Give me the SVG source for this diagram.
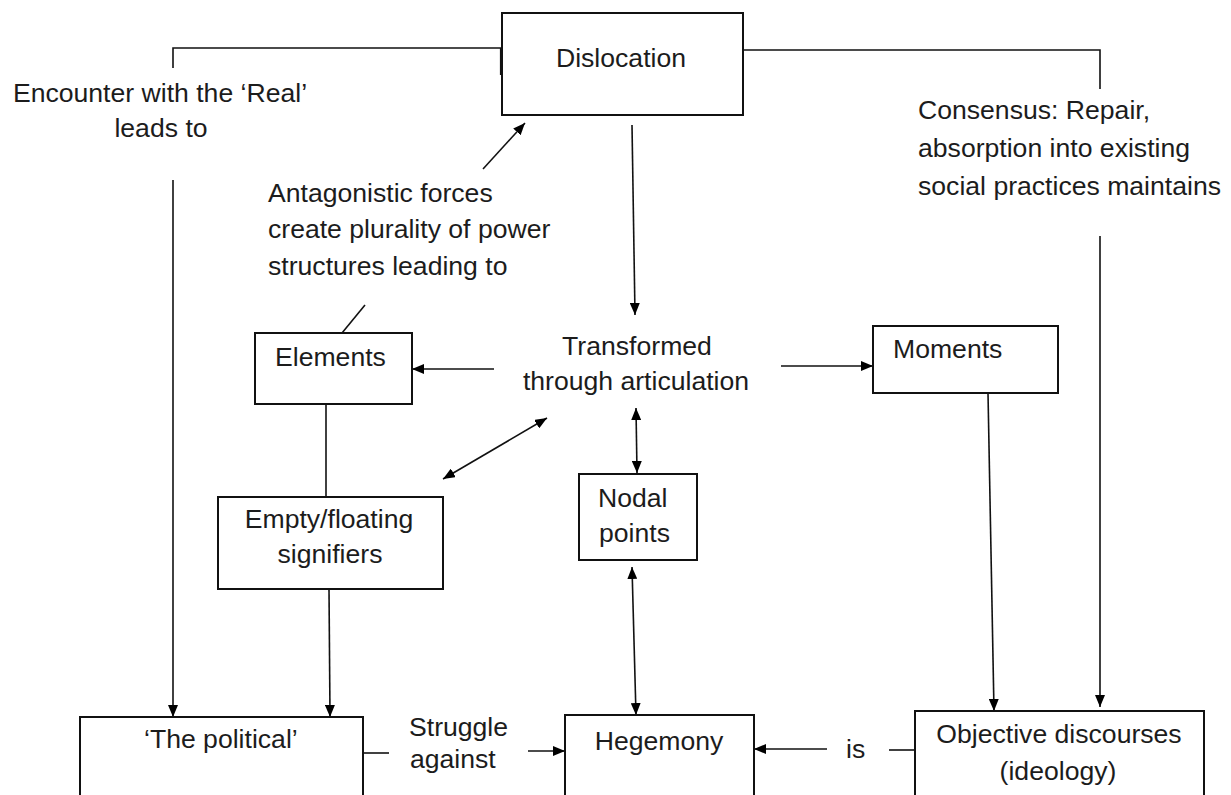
<svg xmlns="http://www.w3.org/2000/svg" width="1231" height="795" viewBox="0 0 1231 795">
<defs>
<marker id="ah" viewBox="0 0 12 10" refX="12" refY="5" markerWidth="12" markerHeight="10" markerUnits="userSpaceOnUse" orient="auto-start-reverse">
<path d="M0,0 L12,5 L0,10 z" fill="#000"/>
</marker>
<style>
.box{fill:#fff;stroke:#111;stroke-width:2}
.ln{fill:none;stroke:#111;stroke-width:1.6}
.ar{marker-end:url(#ah)}
.da{marker-start:url(#ah);marker-end:url(#ah)}
text{font-family:"Liberation Sans",Arial,sans-serif;font-size:26.6px;fill:#1c1c1c}
.c{text-anchor:middle}
</style>
</defs>
<rect width="1231" height="795" fill="#fff"/>
<g id="connectors">
<path class="ln" d="M173,68 V48 H501"/>
<path class="ln" d="M501,48 V75" style="stroke-width:2.2"/>
<path class="ln" d="M743,50 H1100 V89"/>
<line class="ln ar" x1="173" y1="180" x2="173" y2="717"/>
<line class="ln ar" x1="483" y1="169" x2="525" y2="123"/>
<line class="ln ar" x1="632" y1="125" x2="635" y2="315"/>
<line class="ln ar" x1="494" y1="369" x2="412" y2="369"/>
<line class="ln ar" x1="781" y1="366" x2="873" y2="366"/>
<line class="ln" x1="365" y1="305" x2="342" y2="333"/>
<line class="ln" x1="326" y1="404" x2="326" y2="497"/>
<line class="ln da" x1="443" y1="479" x2="547" y2="418"/>
<line class="ln da" x1="636" y1="408" x2="637" y2="473"/>
<line class="ln ar" x1="329" y1="589" x2="330" y2="717"/>
<line class="ln da" x1="632" y1="567" x2="636" y2="715"/>
<line class="ln ar" x1="988" y1="393" x2="994" y2="711"/>
<line class="ln ar" x1="1100" y1="236" x2="1100" y2="707"/>
<line class="ln" x1="363" y1="753" x2="389" y2="753"/>
<line class="ln ar" x1="528" y1="751" x2="565" y2="751"/>
<line class="ln" x1="915" y1="750" x2="889" y2="750"/>
<line class="ln ar" x1="827" y1="749" x2="754" y2="749"/>
</g>
<g id="label-encounter">
<text class="c" x="160" y="102">Encounter with the ‘Real’</text>
<text class="c" x="161" y="137">leads to</text>
</g>
<g id="label-antagonistic">
<text x="268" y="202">Antagonistic forces</text>
<text x="268" y="238">create plurality of power</text>
<text x="268" y="275">structures leading to</text>
</g>
<g id="label-consensus">
<text x="918" y="119">Consensus: Repair,</text>
<text x="918" y="157">absorption into existing</text>
<text x="918" y="195">social practices maintains</text>
</g>
<g id="node-dislocation">
<rect class="box" x="502" y="13" width="241" height="102"/>
<text class="c" x="621" y="67">Dislocation</text>
</g>
<g id="node-transformed">
<text class="c" x="637" y="355">Transformed</text>
<text class="c" x="636" y="390">through articulation</text>
</g>
<g id="node-elements">
<rect class="box" x="255" y="333" width="157" height="71"/>
<text x="275" y="366">Elements</text>
</g>
<g id="node-moments">
<rect class="box" x="873" y="326" width="185" height="67"/>
<text x="893" y="358">Moments</text>
</g>
<g id="node-signifiers">
<rect class="box" x="218" y="497" width="225" height="92"/>
<text class="c" x="329" y="528">Empty/floating</text>
<text class="c" x="330" y="563">signifiers</text>
</g>
<g id="node-nodal">
<rect class="box" x="579" y="474" width="118" height="86"/>
<text x="598" y="507">Nodal</text>
<text x="599" y="542">points</text>
</g>
<g id="node-political">
<rect class="box" x="80" y="717" width="283" height="90"/>
<text x="144" y="748">‘The political’</text>
</g>
<g id="label-struggle">
<text x="409" y="736">Struggle</text>
<text x="410" y="768">against</text>
</g>
<g id="node-hegemony">
<rect class="box" x="565" y="715" width="189" height="92"/>
<text class="c" x="659" y="750">Hegemony</text>
</g>
<g id="label-is">
<text x="846" y="758">is</text>
</g>
<g id="node-objective">
<rect class="box" x="915" y="711" width="289" height="96"/>
<text class="c" x="1059" y="743">Objective discourses</text>
<text class="c" x="1058" y="780">(ideology)</text>
</g>
</svg>
